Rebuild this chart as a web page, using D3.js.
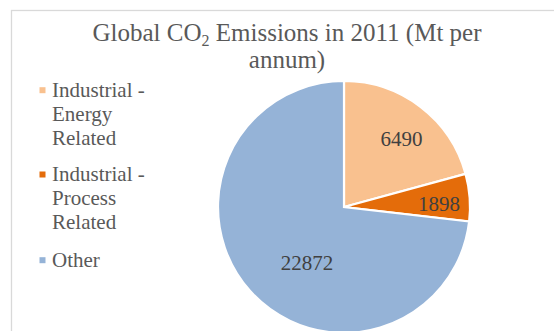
<!DOCTYPE html>
<html>
<head>
<meta charset="utf-8">
<script src="https://cdn.jsdelivr.net/npm/d3@7"></script>
</head>
<body style="margin:0; font-family: 'Times New Roman', 'Liberation Serif', serif;">
<svg id="chart" width="554" height="331" font-family="Times New Roman"></svg>
<script>
// Global CO2 emissions in 2011, Mt per annum
const categories = ["Industrial - Energy Related", "Industrial - Process Related", "Other"];
const values = [6490, 1898, 22872];
const colors = ["#F9C18F", "#E46C0A", "#95B3D7"];
const legendLines = [
  ["Industrial -", "Energy", "Related"],
  ["Industrial -", "Process", "Related"],
  ["Other"]
];

const W = 554, H = 331;
const FONT = "Times New Roman";
const textColor = "#595959";

const svg = d3.select("#chart");

// chart area frame
svg.append("rect")
  .attr("x", 11.5).attr("y", 10.5)
  .attr("width", W + 20).attr("height", H + 20)
  .attr("fill", "#fff")
  .attr("stroke", "#D9D9D9")
  .attr("stroke-width", 1.3);

// title
const title = svg.append("text")
  .attr("font-size", 25)
  .style("font-family", FONT)
  .attr("fill", textColor)
  .attr("text-anchor", "middle");
const l1 = title.append("tspan").attr("x", 287).attr("y", 41);
l1.append("tspan").text("Global CO");
l1.append("tspan").attr("font-size", 16).attr("dy", 5).text("2");
l1.append("tspan").attr("dy", -5).text(" Emissions in 2011 (Mt per");
title.append("tspan").attr("x", 287).attr("y", 68).text("annum)");

// pie
const cx = 344, cy = 207, r = 126;
const pie = d3.pie().sort(null).value(d => d)(values);
const arc = d3.arc().innerRadius(0).outerRadius(r);

const g = svg.append("g").attr("transform", `translate(${cx},${cy})`);
g.selectAll("path.slice")
  .data(pie)
  .join("path")
  .attr("class", "slice")
  .attr("d", arc)
  .attr("fill", (d, i) => colors[i])
  .attr("stroke", "#fff")
  .attr("stroke-width", 2.2)
  .attr("stroke-linejoin", "miter");

// data labels: position along each slice (angle fraction, radius fraction)
const labelAngleFrac = [0.535, 0.61, 0.444];
const labelRadiusFrac = [0.71, 0.755, 0.53];
const labelPos = (d, i) => {
  const a = d.startAngle + labelAngleFrac[i] * (d.endAngle - d.startAngle);
  return [Math.sin(a) * r * labelRadiusFrac[i], -Math.cos(a) * r * labelRadiusFrac[i]];
};
g.selectAll("text.val")
  .data(pie)
  .join("text")
  .attr("class", "val")
  .attr("font-size", 21)
  .style("font-family", FONT)
  .attr("fill", "#404040")
  .attr("text-anchor", "middle")
  .attr("dy", "0.35em")
  .attr("x", (d, i) => labelPos(d, i)[0])
  .attr("y", (d, i) => labelPos(d, i)[1])
  .text(d => d.data);

// legend
const legendTops = [96.7, 181, 266.7];
const lineH = 24;
const legend = svg.append("g");
categories.forEach((c, i) => {
  const item = legend.append("g");
  item.append("rect")
    .attr("x", 39.5).attr("y", legendTops[i] - 9.5)
    .attr("width", 6).attr("height", 6)
    .attr("fill", colors[i]);
  const t = item.append("text")
    .attr("font-size", 21)
    .style("font-family", FONT)
    .attr("fill", textColor);
  legendLines[i].forEach((ln, j) => {
    t.append("tspan").attr("x", 52).attr("y", legendTops[i] + j * lineH).text(ln);
  });
});
</script>
</body>
</html>
